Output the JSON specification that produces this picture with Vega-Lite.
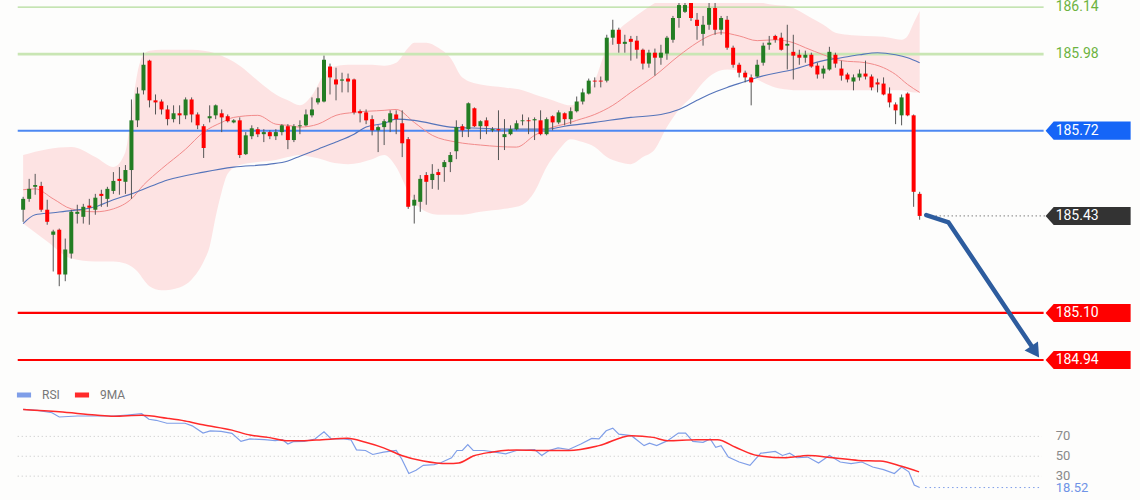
{
"$schema": "https://vega.github.io/schema/vega-lite/v6.json",
"width": 1140, "height": 500,
"autosize": {"type": "fit", "contains": "padding"},
"padding": 0,
"background": "#fdfdfc",
"config": {"view": {"stroke": null}, "font": "Roboto"},
"resolve": {"scale": {"y": "independent"}},
"datasets": {
"candles": [
{"i":0,"o":185.451,"h":185.495,"l":185.410,"c":185.488},
{"i":1,"o":185.488,"h":185.556,"l":185.478,"c":185.522},
{"i":2,"o":185.529,"h":185.573,"l":185.502,"c":185.535},
{"i":3,"o":185.532,"h":185.546,"l":185.444,"c":185.451},
{"i":4,"o":185.451,"h":185.485,"l":185.400,"c":185.410},
{"i":5,"o":185.366,"h":185.383,"l":185.241,"c":185.377},
{"i":6,"o":185.383,"h":185.387,"l":185.191,"c":185.231},
{"i":7,"o":185.231,"h":185.353,"l":185.208,"c":185.316},
{"i":8,"o":185.302,"h":185.451,"l":185.285,"c":185.444},
{"i":9,"o":185.437,"h":185.468,"l":185.404,"c":185.444},
{"i":10,"o":185.427,"h":185.471,"l":185.404,"c":185.461},
{"i":11,"o":185.465,"h":185.488,"l":185.400,"c":185.458},
{"i":12,"o":185.451,"h":185.505,"l":185.434,"c":185.492},
{"i":13,"o":185.505,"h":185.519,"l":185.461,"c":185.498},
{"i":14,"o":185.488,"h":185.529,"l":185.461,"c":185.522},
{"i":15,"o":185.515,"h":185.579,"l":185.505,"c":185.549},
{"i":16,"o":185.556,"h":185.596,"l":185.502,"c":185.549},
{"i":17,"o":185.546,"h":185.603,"l":185.505,"c":185.586},
{"i":18,"o":185.586,"h":185.826,"l":185.488,"c":185.755},
{"i":19,"o":185.755,"h":185.867,"l":185.732,"c":185.846},
{"i":20,"o":185.857,"h":185.985,"l":185.843,"c":185.944},
{"i":21,"o":185.958,"h":185.961,"l":185.799,"c":185.823},
{"i":22,"o":185.823,"h":185.843,"l":185.775,"c":185.816},
{"i":23,"o":185.819,"h":185.826,"l":185.775,"c":185.792},
{"i":24,"o":185.792,"h":185.806,"l":185.738,"c":185.759},
{"i":25,"o":185.759,"h":185.806,"l":185.748,"c":185.779},
{"i":26,"o":185.779,"h":185.806,"l":185.742,"c":185.772},
{"i":27,"o":185.772,"h":185.833,"l":185.759,"c":185.826},
{"i":28,"o":185.826,"h":185.833,"l":185.748,"c":185.775},
{"i":29,"o":185.775,"h":185.782,"l":185.725,"c":185.738},
{"i":30,"o":185.735,"h":185.742,"l":185.627,"c":185.661},
{"i":31,"o":185.762,"h":185.806,"l":185.748,"c":185.769},
{"i":32,"o":185.772,"h":185.809,"l":185.759,"c":185.806},
{"i":33,"o":185.779,"h":185.792,"l":185.715,"c":185.765},
{"i":34,"o":185.769,"h":185.775,"l":185.748,"c":185.752},
{"i":35,"o":185.748,"h":185.759,"l":185.745,"c":185.755},
{"i":36,"o":185.755,"h":185.765,"l":185.627,"c":185.637},
{"i":37,"o":185.640,"h":185.715,"l":185.637,"c":185.704},
{"i":38,"o":185.701,"h":185.738,"l":185.691,"c":185.728},
{"i":39,"o":185.725,"h":185.732,"l":185.698,"c":185.708},
{"i":40,"o":185.708,"h":185.725,"l":185.681,"c":185.715},
{"i":41,"o":185.715,"h":185.721,"l":185.691,"c":185.701},
{"i":42,"o":185.701,"h":185.725,"l":185.688,"c":185.715},
{"i":43,"o":185.715,"h":185.742,"l":185.704,"c":185.738},
{"i":44,"o":185.735,"h":185.742,"l":185.657,"c":185.688},
{"i":45,"o":185.688,"h":185.742,"l":185.681,"c":185.735},
{"i":46,"o":185.735,"h":185.755,"l":185.708,"c":185.738},
{"i":47,"o":185.738,"h":185.792,"l":185.735,"c":185.775},
{"i":48,"o":185.772,"h":185.833,"l":185.765,"c":185.792},
{"i":49,"o":185.816,"h":185.867,"l":185.809,"c":185.830},
{"i":50,"o":185.819,"h":185.975,"l":185.816,"c":185.961},
{"i":51,"o":185.938,"h":185.948,"l":185.843,"c":185.901},
{"i":52,"o":185.894,"h":185.934,"l":185.823,"c":185.877},
{"i":53,"o":185.890,"h":185.917,"l":185.850,"c":185.894},
{"i":54,"o":185.897,"h":185.914,"l":185.850,"c":185.887},
{"i":55,"o":185.894,"h":185.897,"l":185.775,"c":185.782},
{"i":56,"o":185.786,"h":185.792,"l":185.748,"c":185.779},
{"i":57,"o":185.782,"h":185.792,"l":185.742,"c":185.755},
{"i":58,"o":185.759,"h":185.772,"l":185.704,"c":185.721},
{"i":59,"o":185.721,"h":185.738,"l":185.647,"c":185.732},
{"i":60,"o":185.732,"h":185.759,"l":185.671,"c":185.752},
{"i":61,"o":185.748,"h":185.789,"l":185.715,"c":185.779},
{"i":62,"o":185.775,"h":185.789,"l":185.708,"c":185.759},
{"i":63,"o":185.745,"h":185.789,"l":185.630,"c":185.677},
{"i":64,"o":185.691,"h":185.698,"l":185.454,"c":185.461},
{"i":65,"o":185.465,"h":185.502,"l":185.404,"c":185.485},
{"i":66,"o":185.478,"h":185.569,"l":185.444,"c":185.556},
{"i":67,"o":185.569,"h":185.579,"l":185.468,"c":185.546},
{"i":68,"o":185.552,"h":185.606,"l":185.522,"c":185.573},
{"i":69,"o":185.579,"h":185.590,"l":185.519,"c":185.569},
{"i":70,"o":185.596,"h":185.620,"l":185.546,"c":185.613},
{"i":71,"o":185.613,"h":185.647,"l":185.579,"c":185.637},
{"i":72,"o":185.650,"h":185.755,"l":185.623,"c":185.732},
{"i":73,"o":185.735,"h":185.742,"l":185.698,"c":185.721},
{"i":74,"o":185.725,"h":185.816,"l":185.698,"c":185.813},
{"i":75,"o":185.796,"h":185.799,"l":185.732,"c":185.735},
{"i":76,"o":185.735,"h":185.755,"l":185.691,"c":185.752},
{"i":77,"o":185.755,"h":185.765,"l":185.708,"c":185.735},
{"i":78,"o":185.721,"h":185.732,"l":185.715,"c":185.725},
{"i":79,"o":185.725,"h":185.789,"l":185.620,"c":185.721},
{"i":80,"o":185.698,"h":185.759,"l":185.654,"c":185.708},
{"i":81,"o":185.708,"h":185.738,"l":185.704,"c":185.725},
{"i":82,"o":185.725,"h":185.755,"l":185.721,"c":185.745},
{"i":83,"o":185.752,"h":185.775,"l":185.738,"c":185.755},
{"i":84,"o":185.755,"h":185.765,"l":185.708,"c":185.752},
{"i":85,"o":185.755,"h":185.765,"l":185.688,"c":185.759},
{"i":86,"o":185.755,"h":185.789,"l":185.704,"c":185.708},
{"i":87,"o":185.708,"h":185.765,"l":185.704,"c":185.759},
{"i":88,"o":185.769,"h":185.772,"l":185.721,"c":185.748},
{"i":89,"o":185.748,"h":185.789,"l":185.742,"c":185.782},
{"i":90,"o":185.779,"h":185.782,"l":185.738,"c":185.759},
{"i":91,"o":185.759,"h":185.799,"l":185.742,"c":185.786},
{"i":92,"o":185.786,"h":185.836,"l":185.782,"c":185.819},
{"i":93,"o":185.819,"h":185.863,"l":185.809,"c":185.850},
{"i":94,"o":185.846,"h":185.897,"l":185.843,"c":185.890},
{"i":95,"o":185.890,"h":185.901,"l":185.867,"c":185.887},
{"i":96,"o":185.890,"h":185.904,"l":185.867,"c":185.887},
{"i":97,"o":185.890,"h":186.046,"l":185.884,"c":186.036},
{"i":98,"o":186.036,"h":186.097,"l":186.012,"c":186.063},
{"i":99,"o":186.063,"h":186.070,"l":185.985,"c":186.015},
{"i":100,"o":186.015,"h":186.046,"l":185.985,"c":186.022},
{"i":101,"o":186.032,"h":186.042,"l":185.958,"c":186.022},
{"i":102,"o":186.026,"h":186.042,"l":185.965,"c":185.995},
{"i":103,"o":185.995,"h":185.999,"l":185.928,"c":185.948},
{"i":104,"o":185.948,"h":185.995,"l":185.934,"c":185.985},
{"i":105,"o":185.985,"h":185.999,"l":185.907,"c":185.968},
{"i":106,"o":185.968,"h":186.012,"l":185.944,"c":185.985},
{"i":107,"o":185.982,"h":186.042,"l":185.961,"c":186.036},
{"i":108,"o":186.029,"h":186.110,"l":186.019,"c":186.103},
{"i":109,"o":186.103,"h":186.161,"l":186.070,"c":186.147},
{"i":110,"o":186.124,"h":186.161,"l":186.120,"c":186.147},
{"i":111,"o":186.164,"h":186.168,"l":186.093,"c":186.103},
{"i":112,"o":186.097,"h":186.120,"l":186.029,"c":186.076},
{"i":113,"o":186.049,"h":186.110,"l":186.009,"c":186.080},
{"i":114,"o":186.080,"h":186.154,"l":186.063,"c":186.137},
{"i":115,"o":186.137,"h":186.154,"l":186.046,"c":186.063},
{"i":116,"o":186.063,"h":186.110,"l":186.046,"c":186.103},
{"i":117,"o":186.097,"h":186.110,"l":185.995,"c":186.002},
{"i":118,"o":186.002,"h":186.009,"l":185.934,"c":185.944},
{"i":119,"o":185.944,"h":185.951,"l":185.901,"c":185.917},
{"i":120,"o":185.917,"h":185.924,"l":185.884,"c":185.901},
{"i":121,"o":185.901,"h":185.911,"l":185.806,"c":185.884},
{"i":122,"o":185.904,"h":185.961,"l":185.901,"c":185.944},
{"i":123,"o":185.951,"h":186.019,"l":185.941,"c":186.009},
{"i":124,"o":186.012,"h":186.042,"l":185.995,"c":186.019},
{"i":125,"o":186.042,"h":186.046,"l":186.019,"c":186.029},
{"i":126,"o":186.036,"h":186.053,"l":185.992,"c":185.995},
{"i":127,"o":186.009,"h":186.080,"l":185.928,"c":186.015},
{"i":128,"o":185.988,"h":186.046,"l":185.894,"c":185.975},
{"i":129,"o":185.978,"h":185.995,"l":185.944,"c":185.968},
{"i":130,"o":185.968,"h":185.992,"l":185.951,"c":185.978},
{"i":131,"o":185.978,"h":185.985,"l":185.934,"c":185.938},
{"i":132,"o":185.941,"h":185.951,"l":185.897,"c":185.911},
{"i":133,"o":185.914,"h":185.941,"l":185.897,"c":185.931},
{"i":134,"o":185.928,"h":186.005,"l":185.924,"c":185.988},
{"i":135,"o":185.978,"h":185.985,"l":185.934,"c":185.948},
{"i":136,"o":185.931,"h":185.958,"l":185.890,"c":185.907},
{"i":137,"o":185.911,"h":185.917,"l":185.884,"c":185.894},
{"i":138,"o":185.887,"h":185.911,"l":185.857,"c":185.901},
{"i":139,"o":185.901,"h":185.928,"l":185.890,"c":185.914},
{"i":140,"o":185.914,"h":185.958,"l":185.894,"c":185.904},
{"i":141,"o":185.904,"h":185.911,"l":185.857,"c":185.867},
{"i":142,"o":185.884,"h":185.897,"l":185.850,"c":185.877},
{"i":143,"o":185.880,"h":185.901,"l":185.840,"c":185.843},
{"i":144,"o":185.846,"h":185.867,"l":185.799,"c":185.816},
{"i":145,"o":185.809,"h":185.816,"l":185.742,"c":185.789},
{"i":146,"o":185.772,"h":185.843,"l":185.738,"c":185.833},
{"i":147,"o":185.846,"h":185.850,"l":185.769,"c":185.772},
{"i":148,"o":185.772,"h":185.775,"l":185.461,"c":185.512},
{"i":149,"o":185.505,"h":185.512,"l":185.417,"c":185.430}
],
"band": [
{"i":0,"up":185.637,"lo":185.404},{"i":4,"up":185.657,"lo":185.343},{"i":8,"up":185.664,"lo":185.285},
{"i":12,"up":185.630,"lo":185.275},{"i":15,"up":185.596,"lo":185.275},{"i":17,"up":185.647,"lo":185.268},
{"i":18,"up":185.782,"lo":185.258},{"i":19,"up":185.917,"lo":185.241},{"i":20,"up":185.978,"lo":185.214},
{"i":21,"up":185.992,"lo":185.191},{"i":23,"up":185.995,"lo":185.177},{"i":26,"up":185.995,"lo":185.187},
{"i":28,"up":185.995,"lo":185.214},{"i":30,"up":185.992,"lo":185.275},{"i":31,"up":185.988,"lo":185.326},
{"i":32,"up":185.982,"lo":185.427},{"i":33,"up":185.975,"lo":185.512},{"i":34,"up":185.965,"lo":185.573},
{"i":36,"up":185.941,"lo":185.603},{"i":39,"up":185.890,"lo":185.613},{"i":42,"up":185.843,"lo":185.620},
{"i":44,"up":185.823,"lo":185.630},{"i":46,"up":185.806,"lo":185.637},{"i":48,"up":185.840,"lo":185.630},
{"i":50,"up":185.911,"lo":185.620},{"i":51,"up":185.934,"lo":185.613},{"i":54,"up":185.944,"lo":185.606},
{"i":58,"up":185.944,"lo":185.623},{"i":60,"up":185.941,"lo":185.637},{"i":62,"up":185.951,"lo":185.596},
{"i":64,"up":186.002,"lo":185.512},{"i":65,"up":186.019,"lo":185.478},{"i":67,"up":186.019,"lo":185.444},
{"i":69,"up":186.002,"lo":185.434},{"i":71,"up":185.968,"lo":185.434},{"i":73,"up":185.901,"lo":185.434},
{"i":76,"up":185.877,"lo":185.444},{"i":80,"up":185.867,"lo":185.454},{"i":83,"up":185.857,"lo":185.468},
{"i":85,"up":185.843,"lo":185.512},{"i":87,"up":185.830,"lo":185.596},{"i":89,"up":185.816,"lo":185.654},
{"i":91,"up":185.806,"lo":185.691},{"i":93,"up":185.833,"lo":185.681},{"i":95,"up":185.890,"lo":185.664},
{"i":97,"up":186.002,"lo":185.630},{"i":99,"up":186.063,"lo":185.613},{"i":101,"up":186.097,"lo":185.606},
{"i":103,"up":186.127,"lo":185.630},{"i":105,"up":186.154,"lo":185.657},{"i":107,"up":186.174,"lo":185.732},
{"i":109,"up":186.181,"lo":185.792},{"i":111,"up":186.181,"lo":185.833},{"i":113,"up":186.181,"lo":185.884},
{"i":115,"up":186.181,"lo":185.917},{"i":117,"up":186.181,"lo":185.928},{"i":119,"up":186.174,"lo":185.924},
{"i":121,"up":186.164,"lo":185.907},{"i":123,"up":186.154,"lo":185.884},{"i":125,"up":186.147,"lo":185.867},
{"i":127,"up":186.144,"lo":185.860},{"i":129,"up":186.127,"lo":185.857},{"i":131,"up":186.103,"lo":185.857},
{"i":133,"up":186.080,"lo":185.857},{"i":135,"up":186.053,"lo":185.857},{"i":137,"up":186.046,"lo":185.857},
{"i":140,"up":186.042,"lo":185.857},{"i":143,"up":186.039,"lo":185.857},{"i":145,"up":186.032,"lo":185.857},
{"i":146,"up":186.029,"lo":185.857},{"i":147,"up":186.042,"lo":185.853},{"i":148,"up":186.086,"lo":185.850},
{"i":149,"up":186.127,"lo":185.850}
],
"ma20": [
{"i":0,"v":185.519},{"i":2,"v":185.522},{"i":5,"v":185.488},{"i":8,"v":185.454},{"i":12,"v":185.444},
{"i":15,"v":185.454},{"i":18,"v":185.488},{"i":20,"v":185.535},{"i":23,"v":185.590},{"i":27,"v":185.657},
{"i":30,"v":185.715},{"i":33,"v":185.748},{"i":35,"v":185.765},{"i":39,"v":185.772},{"i":42,"v":185.742},
{"i":44,"v":185.738},{"i":46,"v":185.732},{"i":49,"v":185.742},{"i":52,"v":185.772},{"i":55,"v":185.782},
{"i":60,"v":185.789},{"i":62,"v":185.792},{"i":65,"v":185.748},{"i":68,"v":185.704},{"i":72,"v":185.681},
{"i":76,"v":185.671},{"i":82,"v":185.664},{"i":85,"v":185.704},{"i":88,"v":185.732},{"i":90,"v":185.742},
{"i":92,"v":185.755},{"i":95,"v":185.775},{"i":98,"v":185.806},{"i":101,"v":185.850},{"i":105,"v":185.907},
{"i":109,"v":185.975},{"i":112,"v":186.019},{"i":114,"v":186.042},{"i":116,"v":186.053},{"i":119,"v":186.042},
{"i":122,"v":186.026},{"i":125,"v":186.029},{"i":128,"v":186.019},{"i":130,"v":186.002},{"i":133,"v":185.978},
{"i":136,"v":185.958},{"i":140,"v":185.951},{"i":143,"v":185.934},{"i":145,"v":185.911},{"i":147,"v":185.877},
{"i":149,"v":185.850}
],
"ma100": [
{"i":0,"v":185.404},{"i":2,"v":185.434},{"i":5,"v":185.441},{"i":8,"v":185.448},{"i":12,"v":185.461},
{"i":15,"v":185.485},{"i":18,"v":185.505},{"i":21,"v":185.529},{"i":24,"v":185.552},{"i":30,"v":185.579},
{"i":35,"v":185.596},{"i":41,"v":185.606},{"i":44,"v":185.617},{"i":46,"v":185.633},{"i":49,"v":185.657},
{"i":52,"v":185.681},{"i":55,"v":185.708},{"i":57,"v":185.732},{"i":60,"v":185.745},{"i":62,"v":185.759},
{"i":65,"v":185.755},{"i":71,"v":185.732},{"i":76,"v":185.728},{"i":82,"v":185.725},{"i":87,"v":185.725},
{"i":90,"v":185.735},{"i":95,"v":185.748},{"i":101,"v":185.765},{"i":106,"v":185.775},{"i":109,"v":185.792},
{"i":112,"v":185.823},{"i":114,"v":185.843},{"i":117,"v":185.867},{"i":120,"v":185.887},{"i":122,"v":185.901},
{"i":128,"v":185.928},{"i":133,"v":185.958},{"i":136,"v":185.968},{"i":139,"v":185.978},{"i":142,"v":185.985},
{"i":145,"v":185.978},{"i":147,"v":185.968},{"i":149,"v":185.951}
],
"levels": [
{"level":186.14,"t":"186.14"},{"level":185.98,"t":"185.98"},{"level":185.72,"t":"185.72"},
{"level":185.43,"t":"185.43"},{"level":185.10,"t":"185.10"},{"level":184.94,"t":"184.94"}
],
"arrow": [{"k":0,"i":150.1,"p":185.433},{"k":1,"i":153.8,"p":185.408},{"k":2,"i":167.9,"p":184.978}],
"arrowhead": [{"i":168.2,"p":184.968}],
"grid": [{"g":70,"t":"70"},{"g":50,"t":"50"},{"g":30,"t":"30"}],
"rsilast": [{"v":18.52,"t":"18.52"}],
"rsi": [
{"i":0,"v":97.1},{"i":2.4,"v":96.1},{"i":4.8,"v":93.8},{"i":6.0,"v":89.5},{"i":9.0,"v":90.5},{"i":12.0,"v":90.5},
{"i":15.0,"v":90.5},{"i":17.3,"v":91.5},{"i":19.7,"v":92.8},{"i":20.9,"v":87.2},{"i":22.1,"v":86.2},{"i":23.9,"v":83.2},
{"i":26.9,"v":83.2},{"i":28.1,"v":80.6},{"i":29.9,"v":73.3},{"i":31.1,"v":75.6},{"i":32.9,"v":75.0},{"i":34.7,"v":73.0},
{"i":36.2,"v":65.0},{"i":37.7,"v":67.4},{"i":40.1,"v":66.7},{"i":41.9,"v":65.7},{"i":43.1,"v":66.7},{"i":44.0,"v":62.4},
{"i":44.9,"v":64.7},{"i":46.7,"v":65.0},{"i":48.5,"v":67.4},{"i":50.0,"v":74.6},{"i":51.2,"v":67.4},{"i":53.3,"v":67.4},
{"i":54.5,"v":66.4},{"i":55.4,"v":56.4},{"i":56.9,"v":55.8},{"i":58.1,"v":51.8},{"i":59.9,"v":54.1},{"i":62.0,"v":55.8},
{"i":62.9,"v":47.5},{"i":64.1,"v":32.6},{"i":65.3,"v":35.9},{"i":66.5,"v":40.9},{"i":68.3,"v":41.6},{"i":69.4,"v":43.5},
{"i":71.2,"v":48.5},{"i":72.1,"v":55.8},{"i":73.0,"v":55.8},{"i":73.9,"v":61.7},{"i":74.8,"v":55.8},{"i":76.6,"v":55.8},
{"i":78.4,"v":54.1},{"i":80.2,"v":52.5},{"i":82.0,"v":55.8},{"i":85.0,"v":56.8},{"i":86.2,"v":50.8},{"i":87.4,"v":55.8},
{"i":88.9,"v":58.4},{"i":90.7,"v":56.8},{"i":92.7,"v":62.4},{"i":94.5,"v":68.0},{"i":95.7,"v":67.4},{"i":96.9,"v":75.6},
{"i":98.0,"v":78.3},{"i":99.0,"v":72.3},{"i":101.1,"v":70.7},{"i":103.2,"v":60.7},{"i":104.1,"v":63.1},{"i":105.3,"v":60.7},
{"i":107.1,"v":65.7},{"i":108.9,"v":73.3},{"i":110.1,"v":73.3},{"i":111.3,"v":65.0},{"i":113.0,"v":64.0},{"i":114.2,"v":67.4},
{"i":115.1,"v":59.1},{"i":116.0,"v":60.7},{"i":117.2,"v":49.2},{"i":119.0,"v":44.2},{"i":120.8,"v":40.9},{"i":122.6,"v":53.1},
{"i":125.0,"v":54.8},{"i":126.2,"v":50.8},{"i":127.4,"v":53.1},{"i":128.6,"v":48.5},{"i":130.4,"v":49.2},{"i":132.2,"v":43.2},
{"i":134.0,"v":50.8},{"i":135.8,"v":44.2},{"i":137.6,"v":42.6},{"i":139.4,"v":44.2},{"i":141.2,"v":39.2},{"i":143.0,"v":36.6},
{"i":144.8,"v":32.6},{"i":146.0,"v":39.2},{"i":147.2,"v":34.3},{"i":148.1,"v":21.1},{"i":149.0,"v":18.52}
],
"ma9": [
{"i":0,"v":97.1},{"i":6.0,"v":94.8},{"i":12.0,"v":91.5},{"i":15.0,"v":90.2},{"i":19.7,"v":91.2},{"i":23.9,"v":88.2},
{"i":26.9,"v":85.5},{"i":29.9,"v":81.6},{"i":34.7,"v":76.3},{"i":37.7,"v":71.3},{"i":40.7,"v":69.0},{"i":43.7,"v":65.7},
{"i":46.7,"v":65.7},{"i":49.7,"v":66.7},{"i":53.9,"v":68.0},{"i":56.9,"v":64.0},{"i":59.9,"v":58.4},{"i":62.9,"v":50.8},
{"i":66.5,"v":45.2},{"i":70.6,"v":42.6},{"i":72.4,"v":43.2},{"i":74.8,"v":50.2},{"i":77.8,"v":54.1},{"i":82.0,"v":56.4},
{"i":86.8,"v":55.8},{"i":90.7,"v":55.8},{"i":95.7,"v":60.7},{"i":101.1,"v":70.7},{"i":104.7,"v":69.0},{"i":107.1,"v":65.7},
{"i":111.9,"v":66.7},{"i":115.4,"v":66.7},{"i":118.4,"v":59.1},{"i":122.0,"v":50.8},{"i":126.8,"v":48.5},{"i":130.4,"v":50.8},
{"i":134.6,"v":48.5},{"i":138.8,"v":45.8},{"i":142.4,"v":45.2},{"i":146.0,"v":39.9},{"i":148.9,"v":34.3}
]
},
"layer": [
{"layer": [
{"data":{"name":"band"},"mark":{"type":"area","color":"#fde3e3","interpolate":"monotone","clip":true},
 "encoding":{"x":{"field":"i","type":"quantitative","scale":{"domain":[-3.015,184.79],"nice":false,"zero":false},"axis":null},
 "y":{"field":"up","type":"quantitative","scale":{"domain":[184.464,186.154],"nice":false,"zero":false},"axis":null},"y2":{"field":"lo"}}},
{"data":{"name":"levels"},"transform":[{"filter":"datum.level == 186.14"}],"mark":{"type":"rule","color":"#b2db9a","strokeWidth":1.3},
 "encoding":{"x":{"datum":-0.9,"type":"quantitative","scale":{"domain":[-3.015,184.79],"nice":false,"zero":false},"axis":null},"x2":{"datum":169.6},
 "y":{"field":"level","type":"quantitative","scale":{"domain":[184.464,186.154],"nice":false,"zero":false},"axis":null}}},
{"data":{"name":"levels"},"transform":[{"filter":"datum.level == 185.98"}],"mark":{"type":"rule","color":"#c9e6b4","strokeWidth":2.6},
 "encoding":{"x":{"datum":-0.9,"type":"quantitative","scale":{"domain":[-3.015,184.79],"nice":false,"zero":false},"axis":null},"x2":{"datum":169.6},
 "y":{"field":"level","type":"quantitative","scale":{"domain":[184.464,186.154],"nice":false,"zero":false},"axis":null}}},
{"data":{"name":"levels"},"transform":[{"filter":"datum.level == 185.72"}],"mark":{"type":"rule","color":"#4d88f2","strokeWidth":2},
 "encoding":{"x":{"datum":-0.9,"type":"quantitative","scale":{"domain":[-3.015,184.79],"nice":false,"zero":false},"axis":null},"x2":{"datum":169.6},
 "y":{"field":"level","type":"quantitative","scale":{"domain":[184.464,186.154],"nice":false,"zero":false},"axis":null}}},
{"data":{"name":"levels"},"transform":[{"filter":"datum.level < 185.2"}],"mark":{"type":"rule","color":"#ff0000","strokeWidth":2.2},
 "encoding":{"x":{"datum":-0.9,"type":"quantitative","scale":{"domain":[-3.015,184.79],"nice":false,"zero":false},"axis":null},"x2":{"datum":169.6},
 "y":{"field":"level","type":"quantitative","scale":{"domain":[184.464,186.154],"nice":false,"zero":false},"axis":null}}},
{"data":{"name":"levels"},"transform":[{"filter":"datum.level == 185.43"}],"mark":{"type":"rule","color":"#444444","strokeWidth":1,"strokeDash":[1,3]},
 "encoding":{"x":{"datum":151,"type":"quantitative","scale":{"domain":[-3.015,184.79],"nice":false,"zero":false},"axis":null},"x2":{"datum":170},
 "y":{"field":"level","type":"quantitative","scale":{"domain":[184.464,186.154],"nice":false,"zero":false},"axis":null}}},
{"data":{"name":"ma20"},"mark":{"type":"line","color":"#f28b8b","strokeWidth":1,"interpolate":"monotone"},
 "encoding":{"x":{"field":"i","type":"quantitative","scale":{"domain":[-3.015,184.79],"nice":false,"zero":false},"axis":null},
 "y":{"field":"v","type":"quantitative","scale":{"domain":[184.464,186.154],"nice":false,"zero":false},"axis":null}}},
{"data":{"name":"ma100"},"mark":{"type":"line","color":"#5574ba","strokeWidth":1.1,"interpolate":"monotone"},
 "encoding":{"x":{"field":"i","type":"quantitative","scale":{"domain":[-3.015,184.79],"nice":false,"zero":false},"axis":null},
 "y":{"field":"v","type":"quantitative","scale":{"domain":[184.464,186.154],"nice":false,"zero":false},"axis":null}}},
{"data":{"name":"candles"},"mark":{"type":"rule","color":"#555555","strokeWidth":1,"clip":true},
 "encoding":{"x":{"field":"i","type":"quantitative","scale":{"domain":[-3.015,184.79],"nice":false,"zero":false},"axis":null},
 "y":{"field":"l","type":"quantitative","scale":{"domain":[184.464,186.154],"nice":false,"zero":false},"axis":null},"y2":{"field":"h"}}},
{"data":{"name":"candles"},"transform":[{"filter":"datum.c >= datum.o"}],"mark":{"type":"bar","color":"#237d23","size":4,"clip":true},
 "encoding":{"x":{"field":"i","type":"quantitative","scale":{"domain":[-3.015,184.79],"nice":false,"zero":false},"axis":null},
 "y":{"field":"o","type":"quantitative","scale":{"domain":[184.464,186.154],"nice":false,"zero":false},"axis":null},"y2":{"field":"c"}}},
{"data":{"name":"candles"},"transform":[{"filter":"datum.c < datum.o"}],"mark":{"type":"bar","color":"#ff0000","size":4,"clip":true},
 "encoding":{"x":{"field":"i","type":"quantitative","scale":{"domain":[-3.015,184.79],"nice":false,"zero":false},"axis":null},
 "y":{"field":"o","type":"quantitative","scale":{"domain":[184.464,186.154],"nice":false,"zero":false},"axis":null},"y2":{"field":"c"}}},
{"data":{"name":"levels"},"transform":[{"filter":"datum.level == 185.72"}],"mark":{"type":"point","shape":"M-1,0L-0.81,-0.212L1,-0.212L1,0.212L-0.81,0.212Z","size":7225,"filled":true,"color":"#1565f7","opacity":1,"strokeWidth":0},
 "encoding":{"x":{"datum":177,"type":"quantitative","scale":{"domain":[-3.015,184.79],"nice":false,"zero":false},"axis":null},
 "y":{"field":"level","type":"quantitative","scale":{"domain":[184.464,186.154],"nice":false,"zero":false},"axis":null}}},
{"data":{"name":"levels"},"transform":[{"filter":"datum.level == 185.43"}],"mark":{"type":"point","shape":"M-1,0L-0.81,-0.212L1,-0.212L1,0.212L-0.81,0.212Z","size":7225,"filled":true,"color":"#333333","opacity":1,"strokeWidth":0},
 "encoding":{"x":{"datum":177,"type":"quantitative","scale":{"domain":[-3.015,184.79],"nice":false,"zero":false},"axis":null},
 "y":{"field":"level","type":"quantitative","scale":{"domain":[184.464,186.154],"nice":false,"zero":false},"axis":null}}},
{"data":{"name":"levels"},"transform":[{"filter":"datum.level < 185.2"}],"mark":{"type":"point","shape":"M-1,0L-0.81,-0.212L1,-0.212L1,0.212L-0.81,0.212Z","size":7225,"filled":true,"color":"#ff0000","opacity":1,"strokeWidth":0},
 "encoding":{"x":{"datum":177,"type":"quantitative","scale":{"domain":[-3.015,184.79],"nice":false,"zero":false},"axis":null},
 "y":{"field":"level","type":"quantitative","scale":{"domain":[184.464,186.154],"nice":false,"zero":false},"axis":null}}},
{"data":{"name":"levels"},"transform":[{"filter":"datum.level < 185.9"}],"mark":{"type":"text","color":"#ffffff","fontSize":14,"align":"left","baseline":"middle","font":"Roboto"},
 "encoding":{"x":{"datum":171.6,"type":"quantitative","scale":{"domain":[-3.015,184.79],"nice":false,"zero":false},"axis":null},
 "y":{"field":"level","type":"quantitative","scale":{"domain":[184.464,186.154],"nice":false,"zero":false},"axis":null},"text":{"field":"t"}}},
{"data":{"name":"levels"},"transform":[{"filter":"datum.level > 185.9"}],"mark":{"type":"text","color":"#6cb33f","fontSize":14,"align":"left","baseline":"middle","font":"Roboto"},
 "encoding":{"x":{"datum":171.6,"type":"quantitative","scale":{"domain":[-3.015,184.79],"nice":false,"zero":false},"axis":null},
 "y":{"field":"level","type":"quantitative","scale":{"domain":[184.464,186.154],"nice":false,"zero":false},"axis":null},"text":{"field":"t"}}},
{"data":{"name":"arrow"},"mark":{"type":"line","color":"#2d5c9e","strokeWidth":4.5,"strokeJoin":"round","strokeCap":"round"},
 "encoding":{"x":{"field":"i","type":"quantitative","scale":{"domain":[-3.015,184.79],"nice":false,"zero":false},"axis":null},
 "y":{"field":"p","type":"quantitative","scale":{"domain":[184.464,186.154],"nice":false,"zero":false},"axis":null},"order":{"field":"k"}}},
{"data":{"name":"arrowhead"},"mark":{"type":"point","shape":"triangle-down","size":260,"filled":true,"color":"#2d5c9e","opacity":1,"angle":326},
 "encoding":{"x":{"field":"i","type":"quantitative","scale":{"domain":[-3.015,184.79],"nice":false,"zero":false},"axis":null},
 "y":{"field":"p","type":"quantitative","scale":{"domain":[184.464,186.154],"nice":false,"zero":false},"axis":null}}}
]},
{"layer": [
{"data":{"name":"grid"},"mark":{"type":"rule","color":"#c4c4c4","strokeWidth":1,"strokeDash":[1,3]},
 "encoding":{"x":{"datum":-0.9,"type":"quantitative","scale":{"domain":[-3.015,184.79],"nice":false,"zero":false},"axis":null},"x2":{"datum":169.3},
 "y":{"field":"g","type":"quantitative","scale":{"domain":[6,506],"nice":false,"zero":false},"axis":null}}},
{"data":{"name":"grid"},"mark":{"type":"text","color":"#8a8a8a","fontSize":13,"align":"left","baseline":"middle","font":"Roboto"},
 "encoding":{"x":{"datum":171.6,"type":"quantitative","scale":{"domain":[-3.015,184.79],"nice":false,"zero":false},"axis":null},
 "y":{"field":"g","type":"quantitative","scale":{"domain":[6,506],"nice":false,"zero":false},"axis":null},"text":{"field":"t"}}},
{"data":{"name":"rsilast"},"mark":{"type":"rule","color":"#7f9ee8","strokeWidth":1,"strokeDash":[1.5,3]},
 "encoding":{"x":{"datum":149.9,"type":"quantitative","scale":{"domain":[-3.015,184.79],"nice":false,"zero":false},"axis":null},"x2":{"datum":169.3},
 "y":{"field":"v","type":"quantitative","scale":{"domain":[6,506],"nice":false,"zero":false},"axis":null}}},
{"data":{"name":"rsilast"},"mark":{"type":"text","color":"#6f93e6","fontSize":13,"align":"left","baseline":"middle","font":"Roboto"},
 "encoding":{"x":{"datum":171.6,"type":"quantitative","scale":{"domain":[-3.015,184.79],"nice":false,"zero":false},"axis":null},
 "y":{"field":"v","type":"quantitative","scale":{"domain":[6,506],"nice":false,"zero":false},"axis":null},"text":{"field":"t"}}},
{"data":{"name":"rsi"},"mark":{"type":"line","strokeWidth":1.2},
 "encoding":{"x":{"field":"i","type":"quantitative","scale":{"domain":[-3.015,184.79],"nice":false,"zero":false},"axis":null},
 "y":{"field":"v","type":"quantitative","scale":{"domain":[6,506],"nice":false,"zero":false},"axis":null},
 "color":{"datum":"RSI","type":"nominal","scale":{"domain":["RSI","9MA"],"range":["#7f9ee8","#ff2a2a"]},
  "legend":{"orient":"none","legendX":14,"legendY":382,"direction":"horizontal","title":null,"symbolType":"stroke","symbolStrokeWidth":5,"symbolSize":200,"labelFontSize":12,"labelColor":"#777777","labelFont":"Roboto","columnPadding":4,"labelOffset":8,"symbolOpacity":1}}}},
{"data":{"name":"ma9"},"mark":{"type":"line","strokeWidth":1.5,"interpolate":"monotone"},
 "encoding":{"x":{"field":"i","type":"quantitative","scale":{"domain":[-3.015,184.79],"nice":false,"zero":false},"axis":null},
 "y":{"field":"v","type":"quantitative","scale":{"domain":[6,506],"nice":false,"zero":false},"axis":null},
 "color":{"datum":"9MA","type":"nominal","scale":{"domain":["RSI","9MA"],"range":["#7f9ee8","#ff2a2a"]},
  "legend":{"orient":"none","legendX":14,"legendY":382,"direction":"horizontal","title":null,"symbolType":"stroke","symbolStrokeWidth":5,"symbolSize":200,"labelFontSize":12,"labelColor":"#777777","labelFont":"Roboto","columnPadding":4,"labelOffset":8,"symbolOpacity":1}}}}
]}
]
}
